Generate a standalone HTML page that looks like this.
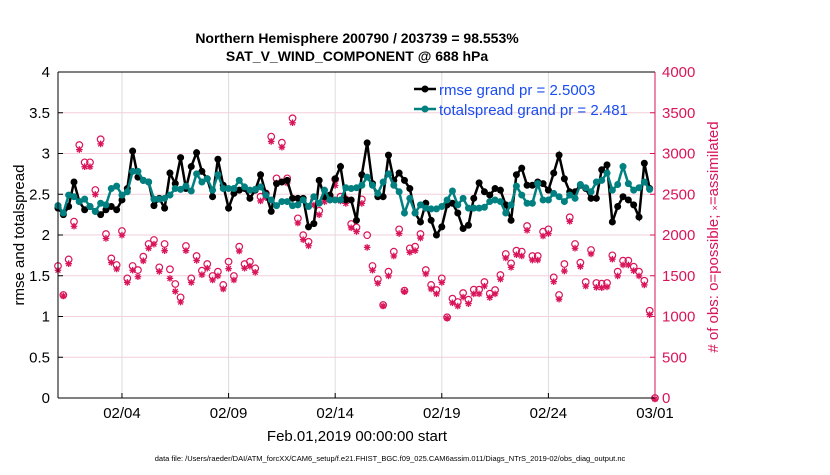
<!DOCTYPE html>
<html><head><meta charset="utf-8"><style>
body{margin:0;background:#fff;width:830px;height:470px;overflow:hidden;font-family:"Liberation Sans",sans-serif}
</style></head><body>
<svg id="chart" width="830" height="470" xmlns="http://www.w3.org/2000/svg" font-family="Liberation Sans, sans-serif">
<g id="grid"></g>
<g id="obs"></g>
<g id="lines"></g>
<g id="axes"></g>
<text x="357" y="43" text-anchor="middle" font-size="14" font-weight="bold">Northern Hemisphere 200790 / 203739 = 98.553%</text>
<text x="357" y="61" text-anchor="middle" font-size="14" font-weight="bold">SAT_V_WIND_COMPONENT @ 688 hPa</text>
<text transform="translate(24,235) rotate(-90)" text-anchor="middle" font-size="15">rmse and totalspread</text>
<text transform="translate(718,237) rotate(-90)" text-anchor="middle" font-size="15" fill="#d9145a"># of obs: o=possible; <tspan font-size="9">×</tspan>=assimilated</text>
<text x="357" y="441" text-anchor="middle" font-size="15">Feb.01,2019 00:00:00 start</text>
<text x="390" y="461" text-anchor="middle" font-size="7.5">data file: /Users/raeder/DAI/ATM_forcXX/CAM6_setup/f.e21.FHIST_BGC.f09_025.CAM6assim.011/Diags_NTrS_2019-02/obs_diag_output.nc</text>
<g>
<line x1="414" y1="89" x2="436" y2="89" stroke="#000" stroke-width="2.5"/><circle cx="425" cy="89" r="3.5" fill="#000"/>
<text x="439" y="95" font-size="15" fill="#1a4cf0">rmse grand pr = 2.5003</text>
<line x1="414" y1="109" x2="436" y2="109" stroke="#008080" stroke-width="2.5"/><circle cx="425" cy="109" r="3.5" fill="#008080"/>
<text x="439" y="115" font-size="15" fill="#1a4cf0">totalspread grand pr = 2.481</text>
</g>
</svg>
<script>
const xTickLabels=["02/04","02/09","02/14","02/19","02/24","03/01"];
const xTickDays=[3,8,13,18,23,28];
const yLeftTicks=[0,0.5,1,1.5,2,2.5,3,3.5,4];
const yRightTicks=[0,500,1000,1500,2000,2500,3000,3500,4000];
const rmse=[2.33,2.25,2.35,2.65,2.41,2.31,2.35,2.29,2.25,2.31,2.35,2.31,2.43,2.57,3.03,2.71,2.67,2.65,2.36,2.45,2.33,2.76,2.63,2.95,2.57,2.84,3.01,2.78,2.69,2.47,2.93,2.61,2.33,2.51,2.55,2.57,
2.45,2.55,2.74,2.51,2.29,2.63,2.65,2.67,2.45,2.45,2.45,2.10,2.14,2.67,2.47,2.49,2.69,2.84,2.43,2.43,2.18,2.74,3.13,2.63,2.47,2.47,2.98,2.67,2.76,2.67,2.57,2.27,2.16,2.39,2.18,2.00,2.10,2.37,
2.39,2.27,2.08,2.12,2.45,2.64,2.53,2.49,2.57,2.55,2.37,2.18,2.74,2.82,2.61,2.61,2.65,2.63,2.55,2.76,2.98,2.69,2.53,2.53,2.61,2.57,2.45,2.45,2.80,2.86,2.16,2.35,2.47,2.43,2.37,2.22,2.88,2.57];
const spread=[2.36,2.27,2.49,2.47,2.41,2.44,2.35,2.29,2.39,2.37,2.57,2.60,2.49,2.53,2.78,2.78,2.67,2.65,2.44,2.44,2.45,2.49,2.57,2.56,2.60,2.54,2.75,2.65,2.69,2.55,2.74,2.57,2.57,2.57,2.67,2.59,
2.55,2.56,2.59,2.49,2.43,2.36,2.41,2.41,2.36,2.37,2.43,2.35,2.47,2.39,2.55,2.43,2.43,2.43,2.58,2.57,2.58,2.61,2.71,2.61,2.51,2.65,2.75,2.61,2.53,2.27,2.45,2.27,2.37,2.33,2.32,2.32,2.35,2.43,
2.54,2.37,2.45,2.33,2.33,2.33,2.34,2.41,2.43,2.41,2.27,2.37,2.60,2.49,2.39,2.39,2.63,2.43,2.43,2.51,2.47,2.41,2.49,2.45,2.62,2.58,2.53,2.65,2.67,2.76,2.55,2.62,2.84,2.63,2.55,2.58,2.65,2.56];
const possible=[1620,1264,1700,2164,3104,2891,2891,2552,3174,2012,1713,1632,2049,1468,1620,1570,1734,1890,1939,1603,1890,1579,1399,1235,1865,1468,1742,1562,1644,1497,1550,1387,1673,1497,1857,1644,
1673,1591,2470,2511,3207,2695,3133,2695,3432,2204,1998,1917,2421,2298,2462,2478,2683,2470,2437,2135,2094,2437,1998,1620,1456,1141,1550,1795,2069,1317,1836,1857,2012,1570,1387,1325,1468,990,
1219,1178,1288,1206,1329,1329,1423,1280,1325,1509,1767,1652,1808,1796,2110,1742,1742,2041,2069,1480,1264,1644,2217,1890,1660,1423,1816,1411,1403,1411,1750,1550,1685,1685,1611,1550,1439,1071,0];
const assimilated=[1580,1264,1660,2120,3060,2850,2850,2510,3130,1970,1675,1595,2010,1430,1580,1500,1695,1850,1900,1565,1820,1480,1320,1190,1820,1430,1700,1525,1605,1460,1510,1350,1600,1460,1815,1605,
1630,1555,2430,2470,3160,2650,3090,2650,3390,2160,1955,1880,2380,2260,2420,2440,2620,2430,2400,2100,2055,2400,1860,1580,1420,1141,1510,1755,2030,1317,1800,1820,1975,1535,1350,1290,1430,990,
1180,1140,1250,1170,1290,1290,1385,1245,1290,1470,1730,1615,1770,1755,2070,1705,1705,2000,2030,1440,1225,1570,2180,1850,1625,1385,1780,1370,1365,1375,1715,1510,1645,1645,1575,1510,1400,1035,0];
const NS="http://www.w3.org/2000/svg";
const X0=58,X1=655,Y0=398,Y1=72,DAYS=28;
const xs=i=>X0+(i/4)*(X1-X0)/DAYS;
const xd=d=>X0+d*(X1-X0)/DAYS;
const yl=v=>Y0-v/4*(Y0-Y1);
const yr=v=>Y0-v/4000*(Y0-Y1);
function mk(p,tag,at){const e=document.createElementNS(NS,tag);for(const k in at)e.setAttribute(k,at[k]);p.appendChild(e);return e;}
const grid=document.getElementById('grid'),axes=document.getElementById('axes'),obs=document.getElementById('obs'),lines=document.getElementById('lines');
yLeftTicks.forEach((v,i)=>{
 if(i>0&&i<yLeftTicks.length-1){const g=mk(grid,'line',{x1:X0,x2:X1,y1:yl(v),y2:yl(v),stroke:'#f3cfdc','stroke-width':1});
 
 }
 mk(axes,'line',{x1:X0,x2:X0+5,y1:yl(v),y2:yl(v),stroke:'#000'});
 const t=mk(axes,'text',{x:X0-8,y:yl(v)+5,'text-anchor':'end','font-size':15});t.textContent=v;
 
 
});
yRightTicks.forEach(v=>{
 mk(axes,'line',{x1:X1-5,x2:X1,y1:yr(v),y2:yr(v),stroke:'#d9145a'});
 const t=mk(axes,'text',{x:X1+7,y:yr(v)+5,'font-size':15,fill:'#d9145a'});t.textContent=v;
 
 
});
xTickDays.forEach((d,i)=>{
 const g=mk(grid,'line',{x1:xd(d),x2:xd(d),y1:Y1,y2:Y0,stroke:'#dcdcdc'});
 
 
 mk(axes,'line',{x1:xd(d),x2:xd(d),y1:Y0,y2:Y0-5,stroke:'#000'});
 const t=mk(axes,'text',{x:xd(d),y:Y0+20,'text-anchor':'middle','font-size':15});t.textContent=xTickLabels[i];
 
 
});
mk(axes,'line',{x1:X0,x2:X1,y1:Y1,y2:Y1,stroke:'#000'});
mk(axes,'line',{x1:X0,x2:X1,y1:Y0,y2:Y0,stroke:'#000'});
mk(axes,'line',{x1:X0,x2:X0,y1:Y1,y2:Y0,stroke:'#000'});
mk(axes,'line',{x1:X1,x2:X1,y1:Y1,y2:Y0,stroke:'#d9145a'});
possible.forEach((v,i)=>{
 const c=mk(obs,'circle',{cx:xs(i),cy:yr(v),r:3.3,fill:'none',stroke:'#d9145a','stroke-width':1.2});
 
 
});
assimilated.forEach((v,i)=>{
 const cx=xs(i),cy=yr(v)+1,r=3.3;
 const d=`M${cx-r},${cy}H${cx+r}M${cx},${cy-r}V${cy+r}M${cx-2.4},${cy-2.4}L${cx+2.4},${cy+2.4}M${cx-2.4},${cy+2.4}L${cx+2.4},${cy-2.4}`;
 const p=mk(obs,'path',{d:d,stroke:'#d9145a','stroke-width':1.3,fill:'none'});
 
 
});
function series(arr,col,name){
 const p=mk(lines,'polyline',{points:arr.map((v,i)=>xs(i)+','+yl(v)).join(' '),fill:'none',stroke:col,'stroke-width':2.5});
 
 
 arr.forEach((v,i)=>{const c=mk(lines,'circle',{cx:xs(i),cy:yl(v),r:3.5,fill:col});
 
 });
}
series(rmse,'#000','rmse');
series(spread,'#008080','totalspread');
</script>
</body></html>
